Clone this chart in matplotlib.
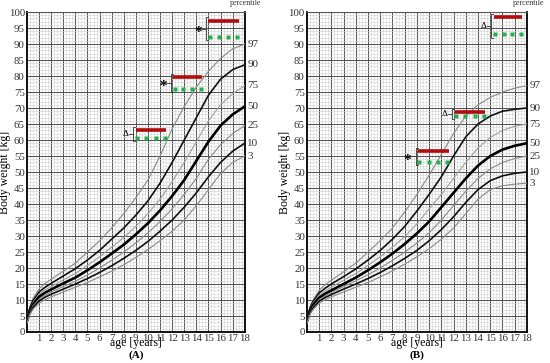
import numpy as np
import matplotlib
matplotlib.use("Agg")
import matplotlib.pyplot as plt
from matplotlib.ticker import MultipleLocator

plt.rcParams['font.family'] = ['Liberation Serif', 'DejaVu Serif']

ages = [0, 0.25, 0.5, 1, 1.5, 2, 3, 4, 5, 6, 7, 8, 9, 10, 11, 12, 13, 14, 15, 16, 17, 18]
pct_names = ['97', '90', '75', '50', '25', '10', '3']

# panel A, body weight [kg]
a_97 = [4.3, 8.0, 10.5, 13.5, 15.2, 16.5, 19.0, 21.5, 25.0, 28.5, 32.5, 37.0, 42.0, 47.5, 55.0, 63.5, 70.5, 76.5, 81.5, 85.5, 88.5, 90.0]
a_90 = [4.0, 7.6, 9.8, 12.5, 14.0, 15.2, 17.5, 19.8, 22.5, 25.5, 29.0, 32.5, 36.5, 41.0, 46.5, 53.0, 60.0, 67.0, 74.0, 79.0, 82.0, 83.5]
a_75 = [3.8, 7.2, 9.2, 11.8, 13.2, 14.2, 16.3, 18.3, 20.8, 23.5, 26.5, 29.5, 33.0, 37.0, 41.5, 47.0, 53.0, 59.5, 66.0, 71.0, 74.5, 77.0]
a_50 = [3.5, 6.8, 8.6, 11.0, 12.3, 13.3, 15.2, 17.0, 19.3, 21.8, 24.5, 27.3, 30.5, 34.0, 38.0, 42.5, 47.5, 53.5, 59.5, 64.5, 68.0, 70.5]
a_25 = [3.2, 6.4, 8.1, 10.3, 11.5, 12.5, 14.2, 15.9, 17.8, 20.0, 22.4, 25.0, 27.8, 31.0, 34.5, 38.5, 43.0, 48.0, 54.0, 58.5, 62.0, 64.5]
a_10 = [3.0, 6.0, 7.6, 9.7, 10.9, 11.8, 13.4, 15.0, 16.7, 18.6, 20.7, 23.0, 25.5, 28.3, 31.5, 35.0, 39.0, 43.5, 48.5, 53.0, 56.5, 59.0]
a_3 = [2.7, 5.6, 7.1, 9.0, 10.1, 11.0, 12.5, 14.0, 15.5, 17.2, 19.0, 21.0, 23.3, 25.8, 28.5, 31.5, 35.0, 39.5, 44.5, 49.5, 53.0, 55.0]

# panel B, body weight [kg]
b_97 = [4.2, 7.8, 10.0, 13.0, 14.8, 16.2, 18.8, 21.5, 25.0, 28.5, 32.5, 37.5, 43.0, 49.0, 55.5, 62.0, 67.5, 71.0, 73.3, 75.0, 76.2, 77.0]
b_90 = [4.0, 7.4, 9.5, 12.2, 13.7, 15.0, 17.3, 19.7, 22.5, 25.5, 29.0, 33.0, 37.8, 43.0, 48.5, 55.0, 61.0, 65.0, 67.5, 69.0, 69.6, 70.0]
b_75 = [3.7, 7.0, 9.0, 11.5, 12.9, 14.0, 16.2, 18.3, 20.8, 23.5, 26.5, 29.8, 33.8, 38.5, 43.0, 48.0, 53.0, 57.5, 60.8, 63.0, 64.3, 65.0]
b_50 = [3.4, 6.6, 8.4, 10.7, 12.0, 13.0, 15.0, 17.0, 19.3, 21.8, 24.5, 27.5, 30.8, 34.5, 39.0, 43.5, 48.0, 52.0, 55.0, 57.0, 58.2, 59.0]
b_25 = [3.1, 6.2, 7.9, 10.1, 11.3, 12.3, 14.2, 16.0, 17.9, 20.0, 22.4, 25.0, 27.8, 31.0, 35.0, 39.5, 44.0, 48.0, 51.0, 53.0, 54.2, 55.0]
b_10 = [2.9, 5.9, 7.5, 9.6, 10.8, 11.7, 13.4, 15.0, 16.7, 18.6, 20.7, 23.0, 25.5, 28.5, 32.0, 36.0, 40.5, 44.5, 47.3, 48.8, 49.6, 50.0]
b_3 = [2.6, 5.5, 7.0, 9.0, 10.1, 11.0, 12.5, 14.0, 15.5, 17.2, 19.1, 21.2, 23.5, 26.0, 29.0, 32.5, 37.0, 41.5, 44.5, 45.7, 46.2, 46.5]

# markers: symbol, age from, age to, red bar [kg], green dots [kg]
a_marks = [('\u0394', 9.0, 11.5, 63.0, 60.6),
           ('*', 12.1, 14.5, 79.7, 76.0),
           ('*', 15.0, 17.5, 97.3, 92.3)]
b_marks = [('*', 9.1, 11.6, 56.6, 53.2),
           ('\u0394', 12.1, 14.6, 68.8, 67.6),
           ('\u0394', 15.3, 17.6, 98.5, 93.0)]

styles = {'97': ('#8a8a8a', 0.8), '90': ('#111111', 1.2), '75': ('#a0a0a0', 0.8),
          '50': ('#000000', 1.9), '25': ('#8a8a8a', 0.8), '10': ('#111111', 1.2),
          '3': ('#8a8a8a', 0.8)}


def draw_panel(ax, curves, marks, tag):
    ax.set_xlim(0, 18)
    ax.set_ylim(0, 100)
    ax.xaxis.set_major_locator(MultipleLocator(1))
    ax.xaxis.set_minor_locator(MultipleLocator(0.25))
    ax.yaxis.set_major_locator(MultipleLocator(5))
    ax.yaxis.set_minor_locator(MultipleLocator(1))
    ax.grid(which='minor', color='#cfcfcf', lw=0.4)
    ax.grid(which='major', color='#555555', lw=0.75)
    ax.set_axisbelow(True)
    ax.tick_params(which='both', length=0, labelsize=7.8, colors='#333333', pad=1.5)
    ax.set_xticks(range(1, 19))
    for s in ['left', 'bottom', 'right']:
        ax.spines[s].set_color('black')
        ax.spines[s].set_linewidth(1.3)
    ax.spines['top'].set_color('#555555')
    ax.spines['top'].set_linewidth(0.75)

    for name, vals in zip(pct_names, curves):
        c, lw = styles[name]
        ax.plot(ages, vals, color=c, lw=lw, zorder=3)
        ax.text(18.2, vals[-1], name, fontsize=8, va='center', ha='left',
                color='#333333', clip_on=False)
    ax.text(18.1, 101.5, 'percentile', fontsize=5.8, ha='center', va='bottom',
            color='#333333', clip_on=False)

    for sym, x0, x1, red, green in marks:
        ax.plot([x0, x1], [red, red], color='#b00c0c', lw=2.6,
                solid_capstyle='butt', zorder=5)
        ax.plot(np.linspace(x0 + 0.1, x1 - 0.1, 4), [green] * 4, 's',
                color='#22b04b', ms=2.6, mec='none', zorder=5)
        bx = x0 - 0.2
        top, bot = red + 1.0, green - 1.0
        ax.plot([bx + 0.15, bx, bx, bx + 0.15], [top, top, bot, bot],
                color='#333333', lw=0.6, zorder=5)
        mid = (top + bot) / 2
        ax.plot([bx - 0.35, bx], [mid, mid], color='#333333', lw=0.6, zorder=5)
        if sym == '*':
            ax.text(bx - 0.35, mid - 1.2, sym, fontsize=11, ha='right',
                    va='center', color='black', zorder=5, fontweight='bold')
        else:
            ax.text(bx - 0.4, mid, sym, fontsize=6.5, ha='right',
                    va='center', color='black', zorder=5)

    ax.text(9, -3.5, 'age [years]', fontsize=8.5, ha='center', va='center',
            clip_on=False)
    ax.set_ylabel('Body weight [kg]', fontsize=8.5)
    ax.yaxis.set_label_coords(-0.072, 0.5)
    ax.text(9, -7.4, tag, fontsize=8, fontweight='bold', ha='center',
            va='center', clip_on=False)


fig = plt.figure(figsize=(5.5, 3.63), dpi=100)
ax_a = fig.add_axes([0.049, 0.0854, 0.396, 0.8815])
ax_b = fig.add_axes([0.558, 0.0854, 0.4, 0.8815])

draw_panel(ax_a, [a_97, a_90, a_75, a_50, a_25, a_10, a_3], a_marks, '(A)')
draw_panel(ax_b, [b_97, b_90, b_75, b_50, b_25, b_10, b_3], b_marks, '(B)')

fig.savefig('out.png', dpi=100)
